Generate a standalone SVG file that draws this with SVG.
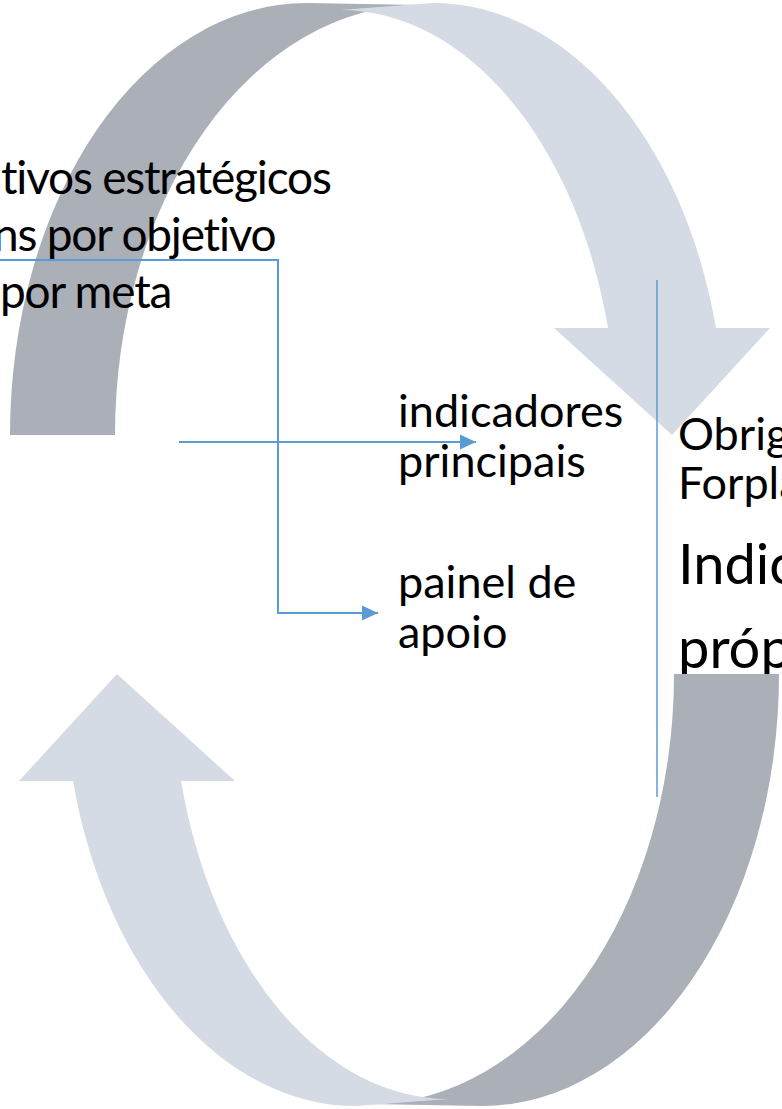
<svg xmlns="http://www.w3.org/2000/svg" width="782" height="1109" viewBox="0 0 782 1109">
<defs>
<style>
.dark{fill:#ABAFB7}
.light{fill:#D5DBE5}
.t{font-family:Lato,"Liberation Sans",sans-serif;fill:#000;font-variant-ligatures:none;font-feature-settings:"liga" 0,"clig" 0}
.tl{letter-spacing:-1.2px}
.c{fill:none;stroke:#5B9BD5;stroke-width:2}
.c2{fill:none;stroke:#5B9BD5;stroke-width:1.5}
</style>
<marker id="ah" markerUnits="userSpaceOnUse" markerWidth="16" markerHeight="16" viewBox="0 0 16 16" refX="16" refY="8" orient="auto">
<path d="M0,0.5 L16,8 L0,15.5 Z" fill="#5B9BD5"/>
</marker>
</defs>
<rect width="782" height="1109" fill="#fff"/>
<g id="arrow-top">
<path class="dark" d="M10,435 A297,432 0 0 1 307,3 L420,5 A305,430 0 0 0 115,435 Z"/>
<path class="light" d="M340,10 A277,425 0 0 1 608,328 L554,328 L672,435 L770,328 L716,328 A292,432 0 0 0 433,3 Z"/>
</g>
<g id="text-right">
<text class="t" x="678" y="450" font-size="45">Obrig</text>
<text class="t" x="678" y="499" font-size="45">Forpla</text>
<text class="t" x="678" y="584" font-size="56">Indic</text>
<text class="t" x="678" y="668" font-size="56">próp</text>
</g>
<g id="arrow-bottom" transform="rotate(180 394.5 554.5)">
<path class="dark" d="M10,435 A297,432 0 0 1 307,3 L420,5 A305,430 0 0 0 115,435 Z"/>
<path class="light" d="M340,10 A277,425 0 0 1 608,328 L554,328 L672,435 L770,328 L716,328 A292,432 0 0 0 433,3 Z"/>
</g>
<g id="text-left">
<text class="t tl" x="1" y="194" font-size="46">tivos estratégicos</text>
<text class="t tl" x="-7" y="251" font-size="46">ns por objetivo</text>
<text class="t tl" x="0" y="308" font-size="46">por meta</text>
</g>
<g id="indicadores">
<text class="t" x="398" y="427" font-size="45">indicadores</text>
<text class="t" x="398" y="477" font-size="45">principais</text>
</g>
<g id="painel">
<text class="t" x="398" y="598" font-size="45">painel de</text>
<text class="t" x="398" y="648" font-size="45">apoio</text>
</g>
<g id="connectors">
<path class="c" d="M0,260 H278 V613 H378" marker-end="url(#ah)"/>
<path class="c" d="M179,442 H476" marker-end="url(#ah)"/>
<path class="c2" d="M657,280 V797"/>
</g>
</svg>
